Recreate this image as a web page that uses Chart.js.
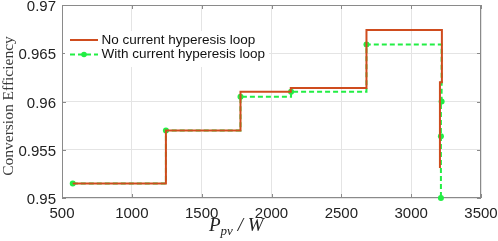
<!DOCTYPE html>
<html>
<head>
<meta charset="utf-8">
<script src="https://cdn.jsdelivr.net/npm/chart.js@4"></script>
<style>
  html, body { margin: 0; padding: 0; background: #fff; }
  #wrap { width: 498px; height: 241px; }
</style>
</head>
<body>
<div id="wrap"><canvas id="c"></canvas></div>
<script>
const seriesNames = ["No current hyperesis loop", "With current hyperesis loop"];
const noLoopX = [577, 1244, 1778, 2138, 2680, 3220, 3206];
const noLoopY = [0.9515, 0.957, 0.961, 0.9614, 0.9674, 0.962, 0.9531];
const withLoopX = [577, 1244, 1778, 2140, 2680, 3218, 3213, 3213];
const withLoopY = [0.9515, 0.957, 0.9605, 0.961, 0.9659, 0.96, 0.9564, 0.95];
const xTicks = [500, 1000, 1500, 2000, 2500, 3000, 3500];
const yTicks = [0.95, 0.955, 0.96, 0.965, 0.97];
const yTickLabels = ["0.95", "0.955", "0.96", "0.965", "0.97"];

const RED = "#cf4c1e";
const GREEN = "#22ee44";

const toPts = (xs, ys) => xs.map((x, i) => ({ x: x, y: ys[i] }));

// box, inner ticks, axis titles and legend, MATLAB style
const decor = {
  id: "decor",
  beforeDatasetsDraw(chart) {
    const { ctx, chartArea: a, scales } = chart;
    ctx.save();
    ctx.strokeStyle = "#8a8a8a";
    ctx.lineWidth = 1;
    ctx.strokeRect(a.left + 0.5, a.top + 0.5, a.right - a.left - 1, a.bottom - a.top - 1);
    ctx.beginPath();
    yTicks.forEach(v => {
      const y = Math.round(scales.y.getPixelForValue(v)) + 0.5;
      ctx.moveTo(a.left, y); ctx.lineTo(a.left + 4, y);
      ctx.moveTo(a.right, y); ctx.lineTo(a.right - 4, y);
    });
    xTicks.forEach(v => {
      const x = Math.round(scales.x.getPixelForValue(v)) + 0.5;
      ctx.moveTo(x, a.bottom); ctx.lineTo(x, a.bottom - 4);
      ctx.moveTo(x, a.top); ctx.lineTo(x, a.top + 4);
    });
    ctx.stroke();
    ctx.restore();
  },
  afterDatasetsDraw(chart) {
    const { ctx, chartArea: a } = chart;
    ctx.save();
    // legend
    ctx.fillStyle = "#fff";
    ctx.fillRect(a.left + 3, a.top + 26, 204, 36);
    ctx.font = "13.5px 'Liberation Sans', Arial, sans-serif";
    ctx.textBaseline = "middle";
    const rows = [a.top + 35, a.top + 49.5];
    ctx.lineWidth = 2;
    ctx.strokeStyle = RED;
    ctx.beginPath(); ctx.moveTo(a.left + 8, rows[0]); ctx.lineTo(a.left + 36, rows[0]); ctx.stroke();
    ctx.strokeStyle = GREEN;
    ctx.setLineDash([5, 3]);
    ctx.beginPath(); ctx.moveTo(a.left + 8, rows[1]); ctx.lineTo(a.left + 36, rows[1]); ctx.stroke();
    ctx.setLineDash([]);
    ctx.fillStyle = GREEN;
    ctx.beginPath(); ctx.arc(a.left + 22, rows[1], 2.8, 0, Math.PI * 2); ctx.fill();
    ctx.fillStyle = "#111";
    ctx.fillText(seriesNames[0], a.left + 39.5, rows[0]);
    ctx.fillText(seriesNames[1], a.left + 39.5, rows[1]);

    // y title
    ctx.fillStyle = "#3a3a3a";
    ctx.font = "15.5px 'Liberation Serif', 'Times New Roman', serif";
    ctx.textAlign = "center";
    ctx.save();
    ctx.translate(9, 106);
    ctx.rotate(-Math.PI / 2);
    ctx.fillText("Conversion Efficiency", 0, 0);
    ctx.restore();

    // x title with subscript
    ctx.fillStyle = "#222";
    ctx.textAlign = "left";
    ctx.textBaseline = "alphabetic";
    const base = 231;
    let x = 209;
    ctx.font = "italic 19px 'Liberation Serif', 'Times New Roman', serif";
    ctx.fillText("P", x, base);
    x += ctx.measureText("P").width;
    ctx.font = "italic 13px 'Liberation Serif', 'Times New Roman', serif";
    ctx.fillText("pv", x, base + 4);
    x += ctx.measureText("pv").width;
    ctx.font = "italic 19px 'Liberation Serif', 'Times New Roman', serif";
    ctx.fillText(" / W", x, base);
    ctx.restore();
  }
};

new Chart(document.getElementById("c"), {
  type: "line",
  data: {
    datasets: [
      {
        label: seriesNames[0],
        data: toPts(noLoopX, noLoopY),
        borderColor: RED,
        borderWidth: 2,
        pointRadius: 0,
        stepped: "before",
        fill: false
      },
      {
        label: seriesNames[1],
        data: toPts(withLoopX, withLoopY),
        borderColor: GREEN,
        backgroundColor: GREEN,
        borderWidth: 2,
        borderDash: [5, 3],
        pointRadius: 3,
        pointBorderWidth: 0,
        pointBackgroundColor: GREEN,
        stepped: "before",
        clip: false,
        fill: false
      }
    ]
  },
  options: {
    responsive: true,
    maintainAspectRatio: false,
    animation: false,
    layout: { padding: { left: 0, top: 5, right: 17, bottom: 0 } },
    plugins: {
      legend: { display: false },
      tooltip: { enabled: false }
    },
    scales: {
      x: {
        type: "linear",
        min: 500,
        max: 3500,
        afterFit: s => { s.height = 43; s.paddingRight = 0; s.paddingLeft = 0; },
        afterBuildTicks: s => { s.ticks = xTicks.map(v => ({ value: v })); },
        ticks: {
          padding: 7,
          color: "#222",
          font: { family: "'Liberation Sans', Arial, sans-serif", size: 15 },
          callback: v => String(v)
        },
        grid: { color: "#e4e4e4", drawTicks: false },
        border: { display: false }
      },
      y: {
        min: 0.95,
        max: 0.97,
        afterFit: s => { s.width = 62; s.paddingTop = 0; s.paddingBottom = 0; },
        afterBuildTicks: s => { s.ticks = yTicks.map(v => ({ value: v })); },
        ticks: {
          padding: 6,
          labelOffset: 2,
          color: "#222",
          font: { family: "'Liberation Sans', Arial, sans-serif", size: 15 },
          callback: v => yTickLabels[yTicks.findIndex(t => Math.abs(t - v) < 1e-6)]
        },
        grid: { color: "#e4e4e4", drawTicks: false },
        border: { display: false }
      }
    }
  },
  plugins: [decor]
});
</script>
</body>
</html>
